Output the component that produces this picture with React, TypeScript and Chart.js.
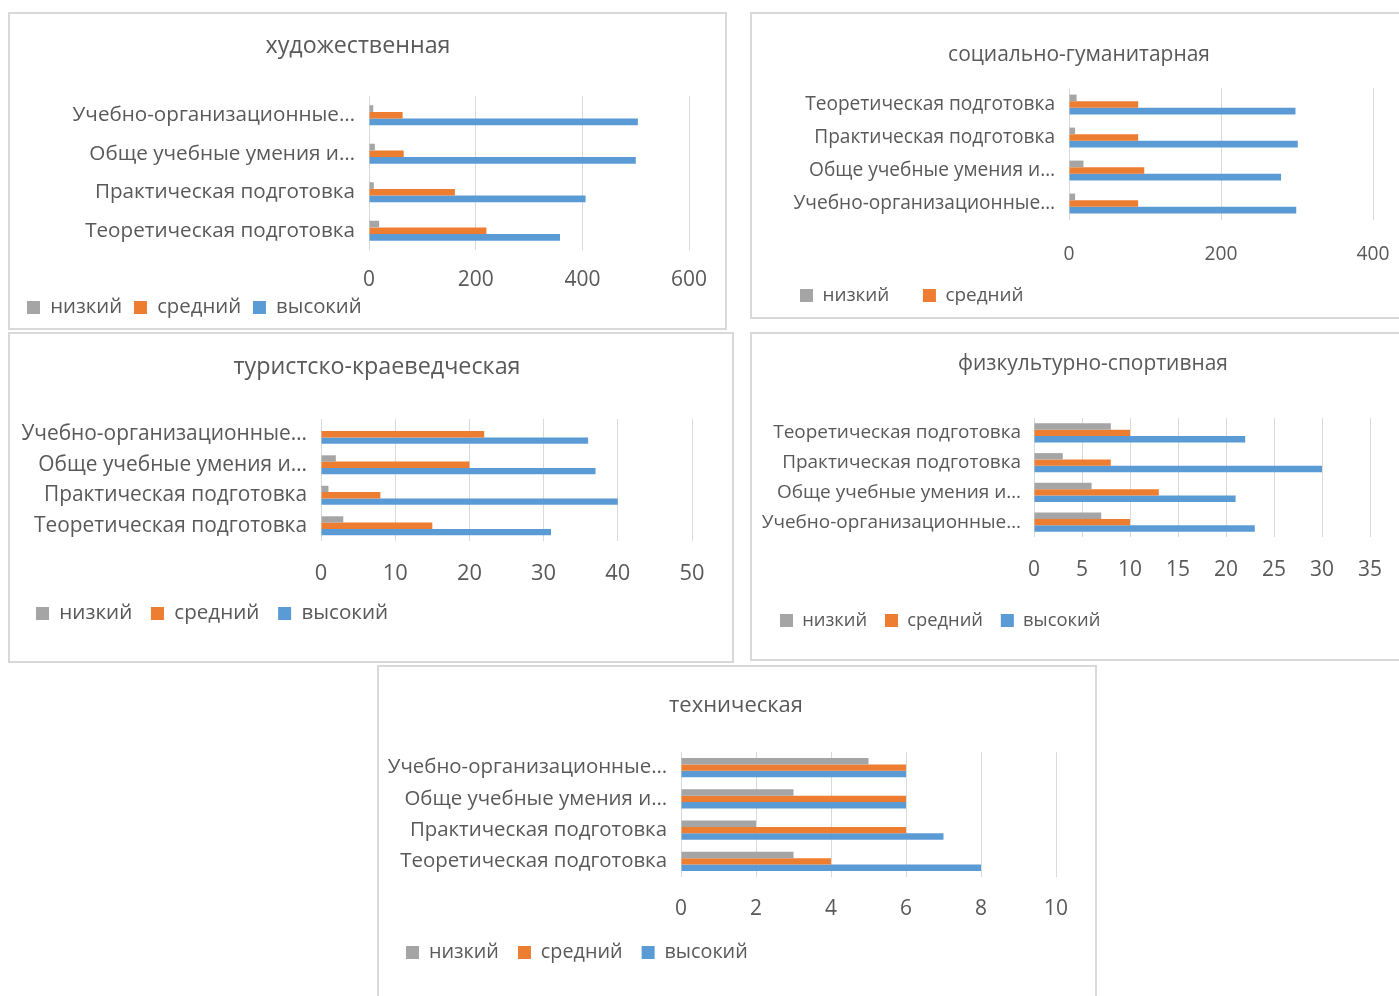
import React, { useEffect, useRef } from 'react';
import { Chart, registerables } from 'chart.js';

Chart.register(...registerables);

// ---------- data ----------
const SERIES = ['низкий', 'средний', 'высокий'];
const SERIES_COLORS = ['#a5a5a5', '#ed7d31', '#5b9bd5'];

const CAT_UO = 'Учебно-организационные…';
const CAT_OU = 'Обще учебные умения и…';
const CAT_PR = 'Практическая подготовка';
const CAT_TE = 'Теоретическая подготовка';

// художественная (categories listed top to bottom)
const artLabels = [CAT_UO, CAT_OU, CAT_PR, CAT_TE];
const artLow = [8, 11, 9, 19];
const artMid = [63, 65, 161, 220];
const artHigh = [504, 500, 406, 358];
const artTicks = [0, 200, 400, 600];

// социально-гуманитарная
const socLabels = [CAT_TE, CAT_PR, CAT_OU, CAT_UO];
const socLow = [10, 8, 19, 8];
const socMid = [91, 91, 99, 91];
const socHigh = [298, 301, 279, 299];
const socTicks = [0, 200, 400];

// туристско-краеведческая
const turLabels = [CAT_UO, CAT_OU, CAT_PR, CAT_TE];
const turLow = [0, 2, 1, 3];
const turMid = [22, 20, 8, 15];
const turHigh = [36, 37, 40, 31];
const turTicks = [0, 10, 20, 30, 40, 50];

// физкультурно-спортивная
const fizLabels = [CAT_TE, CAT_PR, CAT_OU, CAT_UO];
const fizLow = [8, 3, 6, 7];
const fizMid = [10, 8, 13, 10];
const fizHigh = [22, 30, 21, 23];
const fizTicks = [0, 5, 10, 15, 20, 25, 30, 35];

// техническая
const tehLabels = [CAT_UO, CAT_OU, CAT_PR, CAT_TE];
const tehLow = [5, 3, 2, 3];
const tehMid = [6, 6, 6, 4];
const tehHigh = [6, 6, 7, 8];
const tehTicks = [0, 2, 4, 6, 8, 10];

// ---------- style / layout ----------
const FONT = "'Open Sans', 'Noto Sans', 'DejaVu Sans', sans-serif";
const TEXT = '#595959';
const GRID = '#d9d9d9';
const BORDER = 2;
const BOX = 13;
const TEXT_DY = 1.5; // small baseline correction for the font

type Geo = {
  box: [number, number, number, number]; // left, top, width, height (page px)
  plot: [number, number, number, number]; // x0, x1, y0, y1 (page px)
  labelRight: number;
  tickY: number;
  titleX: number;
  titleY: number;
  legend1: number;
  legend2: number;
  legendY: number;
  catW: number;
  titleW: number;
  legendW: number;
  tickW: number;
  group: number;
};

type Spec = {
  title: string;
  labels: string[];
  values: number[][];
  ticks: number[];
  legendShown: string[];
  geo: Geo;
};

const PANELS: Spec[] = [
  {
    title: 'художественная',
    labels: artLabels,
    values: [artLow, artMid, artHigh],
    ticks: artTicks,
    legendShown: SERIES,
    geo: {
      box: [8, 12, 719, 318], plot: [369, 691, 96, 250], labelRight: 355, tickY: 279,
      titleX: 358, titleY: 45, legend1: 27, legend2: 134, legendY: 306,
      catW: 270, titleW: 185, legendW: 72, tickW: 36, group: 0.52,
    },
  },
  {
    title: 'социально-гуманитарная',
    labels: socLabels,
    values: [socLow, socMid, socHigh],
    ticks: socTicks,
    legendShown: ['низкий', 'средний'],
    geo: {
      box: [750, 12, 700, 307], plot: [1069, 1373, 88, 220], labelRight: 1055, tickY: 253,
      titleX: 1079, titleY: 54, legend1: 800, legend2: 923, legendY: 294,
      catW: 250, titleW: 262, legendW: 67, tickW: 33, group: 0.6,
    },
  },
  {
    title: 'туристско-краеведческая',
    labels: turLabels,
    values: [turLow, turMid, turHigh],
    ticks: turTicks,
    legendShown: SERIES,
    geo: {
      box: [8, 332, 726, 331], plot: [321, 692, 419, 541], labelRight: 307, tickY: 572,
      titleX: 377, titleY: 366, legend1: 36, legend2: 151, legendY: 612,
      catW: 273, titleW: 287, legendW: 73, tickW: 25, group: 0.62,
    },
  },
  {
    title: 'физкультурно-спортивная',
    labels: fizLabels,
    values: [fizLow, fizMid, fizHigh],
    ticks: fizTicks,
    legendShown: SERIES,
    geo: {
      box: [750, 332, 700, 329], plot: [1034, 1370, 418, 537], labelRight: 1021, tickY: 569,
      titleX: 1093, titleY: 363, legend1: 780, legend2: 885, legendY: 619,
      catW: 248, titleW: 270, legendW: 65, tickW: 24, group: 0.64,
    },
  },
  {
    title: 'техническая',
    labels: tehLabels,
    values: [tehLow, tehMid, tehHigh],
    ticks: tehTicks,
    legendShown: SERIES,
    geo: {
      box: [377, 665, 720, 400], plot: [681, 1056, 752, 877], labelRight: 667, tickY: 908,
      titleX: 736, titleY: 704, legend1: 406, legend2: 518, legendY: 951,
      catW: 267, titleW: 134, legendW: 70, tickW: 24, group: 0.61,
    },
  },
];

let measureCtx: CanvasRenderingContext2D | null = null;
function fitSize(text: string, width: number): number {
  if (!measureCtx) measureCtx = document.createElement('canvas').getContext('2d');
  measureCtx!.font = `100px ${FONT}`;
  const w = measureCtx!.measureText(text).width;
  return (100 * width) / w;
}

const panelTitlePlugin = {
  id: 'panelTitle',
  afterDraw(chart: any, _args: any, opts: any) {
    if (!opts || !opts.text) return;
    const ctx = chart.ctx as CanvasRenderingContext2D;
    ctx.save();
    ctx.font = `${opts.size}px ${FONT}`;
    ctx.fillStyle = opts.color;
    ctx.textAlign = 'center';
    ctx.textBaseline = 'middle';
    ctx.fillText(opts.text, opts.x, opts.y);
    ctx.restore();
  },
};

// tick labels may reach outside their scale box (as in the reference layout)
const noLabelClip = (s: any) => {
  s._computeLabelArea = () => undefined;
};

function Panel({ spec }: { spec: Spec }) {
  const ref = useRef<HTMLCanvasElement>(null);
  const [l, t, w, h] = spec.geo.box;
  const W = w - 2 * BORDER;
  const H = h - 2 * BORDER;

  useEffect(() => {
    const g = spec.geo;
    const ox = l + BORDER;
    const oy = t + BORDER;
    const catSize = fitSize(CAT_TE, g.catW);
    const titleSize = fitSize(spec.title, g.titleW);
    const legSize = fitSize(SERIES[0], g.legendW);
    const tickSize = fitSize(String(spec.ticks[spec.ticks.length - 1]), g.tickW);

    const legPad = g.legend2 - g.legend1 - BOX - legSize / 2 - g.legendW;
    const padLeft = g.legend1 - ox - legPad;
    const [px0, px1, py0, py1] = g.plot;
    const chartLeft = px0 - ox;
    const chartRight = px1 - ox;
    const chartTop = py0 - oy;
    const chartBottom = py1 - oy;
    const itemH = Math.max(legSize, BOX);
    const legendTop = g.legendY + TEXT_DY - oy - legPad - itemH / 2;
    const legendH = itemH + legPad + 10;
    const xH = Math.max(1, legendTop - chartBottom);
    const padBottom = Math.max(0, H - legendTop - legendH);
    const tickPad = g.tickY + TEXT_DY - oy - chartBottom - 0.6 * tickSize;
    const yWidth = chartLeft - padLeft;
    const yPad = chartLeft - (g.labelRight - ox);
    const tickValues = spec.ticks;

    const chart = new Chart(ref.current as HTMLCanvasElement, {
      type: 'bar',
      data: {
        labels: spec.labels,
        datasets: SERIES.map((name, i) => ({
          label: name,
          data: spec.values[i],
          backgroundColor: SERIES_COLORS[i],
          borderWidth: 0,
        })),
      },
      options: {
        indexAxis: 'y',
        animation: false,
        responsive: false,
        events: [],
        layout: {
          padding: { left: padLeft, right: W - chartRight, top: chartTop, bottom: padBottom },
        },
        datasets: { bar: { categoryPercentage: g.group, barPercentage: 1 } },
        scales: {
          x: {
            type: 'linear',
            min: tickValues[0],
            max: tickValues[tickValues.length - 1],
            afterBuildTicks: (s: any) => {
              s.ticks = tickValues.map((v) => ({ value: v }));
            },
            ticks: { color: TEXT, font: { family: FONT, size: tickSize }, padding: tickPad, autoSkip: false, maxRotation: 0 },
            grid: { color: GRID, drawTicks: false, lineWidth: 1 },
            border: { display: false },
            afterFit: (s: any) => {
              s.height = xH;
              noLabelClip(s);
            },
          },
          y: {
            type: 'category',
            ticks: { color: TEXT, font: { family: FONT, size: catSize }, padding: yPad, autoSkip: false },
            grid: { display: false, drawTicks: false },
            border: { display: false },
            afterFit: (s: any) => {
              s.width = yWidth;
              noLabelClip(s);
            },
          },
        },
        plugins: {
          title: { display: false },
          tooltip: { enabled: false },
          legend: {
            position: 'bottom',
            align: 'start',
            labels: {
              boxWidth: BOX,
              boxHeight: BOX,
              padding: legPad,
              color: TEXT,
              font: { family: FONT, size: legSize },
              filter: (item: any) => spec.legendShown.includes(item.text),
            },
          },
          panelTitle: {
            text: spec.title,
            x: g.titleX - ox,
            y: g.titleY + TEXT_DY - oy,
            size: titleSize,
            color: TEXT,
          },
        } as any,
      },
      plugins: [panelTitlePlugin],
    });
    return () => chart.destroy();
  }, []);

  return (
    <div
      style={{
        position: 'absolute',
        left: l,
        top: t,
        width: w,
        height: h,
        boxSizing: 'border-box',
        border: `${BORDER}px solid #d9d9d9`,
        background: '#fff',
      }}
    >
      <canvas ref={ref} width={W} height={H} style={{ display: 'block', width: W, height: H }} />
    </div>
  );
}

export default function App() {
  return (
    <div
      style={{
        position: 'absolute',
        left: 0,
        top: 0,
        width: 1399,
        height: 996,
        overflow: 'hidden',
        background: '#fff',
      }}
    >
      {PANELS.map((p) => (
        <Panel key={p.title} spec={p} />
      ))}
    </div>
  );
}
